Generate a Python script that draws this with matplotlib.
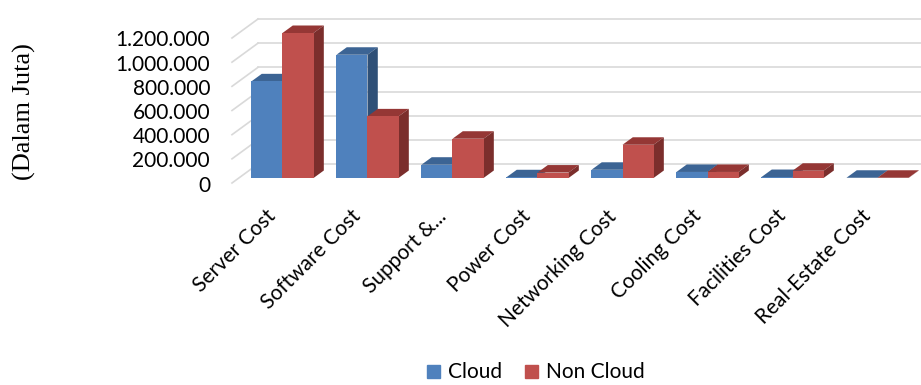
import matplotlib
matplotlib.use("Agg")
import matplotlib.pyplot as plt
from matplotlib.transforms import IdentityTransform
from matplotlib.patches import Polygon, Patch
from matplotlib.lines import Line2D

# ---------------- data ----------------
categories = ["Server Cost", "Software Cost", "Support &...", "Power Cost",
              "Networking Cost", "Cooling Cost", "Facilities Cost", "Real-Estate Cost"]
cloud = [800000, 1020000, 110000, 6000, 68000, 50000, 8000, 2000]
non_cloud = [1200000, 510000, 325000, 45000, 275000, 50000, 60000, 2000]
series_names = ["Cloud", "Non Cloud"]
yticks = [0, 200000, 400000, 600000, 800000, 1000000, 1200000]
ytick_labels = ["0", "200.000", "400.000", "600.000", "800.000", "1.000.000", "1.200.000"]
ylabel = "(Dalam Juta)"

# ---------------- style ----------------
DPI = 100
W, H = 921, 385
FRONT = ["#4F81BD", "#C0504D"]
TOP = ["#3C6494", "#953735"]
SIDE = ["#2F5077", "#7B2E2C"]
GRID = "#D9D9D9"
# depth offsets (pixels, display coords, y up)
FRONT_OFF = (-6.8, -5.0)     # front edge of floor relative to bar front plane
BACK_OFF = (19.2, 14.0)      # back wall relative to bar front plane
BAR_D = (10.3, 7.5)          # bar depth
bar_w = 0.365

plt.rcParams['font.family'] = ['Lato', 'DejaVu Sans']

fig = plt.figure(figsize=(W / DPI, H / DPI), dpi=DPI)
ax = fig.add_axes([238.8 / W, (H - 178) / H, 682.4 / W, 145 / H])
ax.set_xlim(-0.514, 7.514)
ax.set_ylim(0, 1200000)
ax.axis('off')

def disp(x, y, off=(0, 0)):
    px, py = ax.transData.transform((x, y))
    return px + off[0], py + off[1]

x0 = ax.get_xlim()[0]
# gridlines: back wall + left wall diagonals
for v in yticks:
    bx, by = disp(x0, v, BACK_OFF)
    fx, fy = disp(x0, v, FRONT_OFF)
    ax.add_line(Line2D([bx, W + 50], [by, by], color=GRID, lw=1.2,
                       transform=IdentityTransform(), clip_on=False, zorder=0))
    ax.add_line(Line2D([fx, bx], [fy, by], color=GRID, lw=1.2,
                       transform=IdentityTransform(), clip_on=False, zorder=0))

# y tick labels at the front plane
for v, lab in zip(yticks, ytick_labels):
    fx, fy = disp(x0, v, FRONT_OFF)
    fig.text((fx - 22) / W, (fy - 2.5) / H, lab, ha='right', va='center',
             fontsize=15, color='black')

# bars
xs = list(range(len(categories)))
b1 = ax.bar([x - bar_w for x in xs], cloud, width=bar_w, align='edge',
            color=FRONT[0], zorder=2, clip_on=False)
b2 = ax.bar(xs, non_cloud, width=bar_w, align='edge',
            color=FRONT[1], zorder=4, clip_on=False)

def add_3d(rects, k, z):
    for r in rects:
        xl, xr = r.get_x(), r.get_x() + r.get_width()
        h = r.get_height()
        lx, ty = disp(xl, h)
        rx, by = disp(xr, 0)
        dx, dy = BAR_D
        top = Polygon([(lx, ty), (rx, ty), (rx + dx, ty + dy), (lx + dx, ty + dy)],
                      closed=True, facecolor=TOP[k], edgecolor='none',
                      transform=IdentityTransform(), clip_on=False, zorder=z)
        side = Polygon([(rx, by), (rx, ty), (rx + dx, ty + dy), (rx + dx, by + dy)],
                       closed=True, facecolor=SIDE[k], edgecolor='none',
                       transform=IdentityTransform(), clip_on=False, zorder=z)
        ax.add_patch(top)
        ax.add_patch(side)

add_3d(b1, 0, 1)
add_3d(b2, 1, 3)

# category labels
for x, lab in zip(xs, categories):
    px, py = disp(x, 0)
    fig.text((px - 2.5) / W, (py - 28) / H, lab, rotation=45, ha='right', va='top',
             fontsize=15, color='black')

# y label
fig.text(24 / W, 1 - 112 / H, ylabel, rotation=90, ha='center', va='center',
         fontsize=19, family=['Liberation Serif', 'DejaVu Serif'])

# legend
handles = [Patch(color=FRONT[0]), Patch(color=FRONT[1])]
fig.legend(handles, series_names, loc='center', bbox_to_anchor=(536 / W, 12.5 / H),
           ncol=2, frameon=False, fontsize=15, handlelength=0.6, handleheight=0.6,
           handletextpad=0.4, columnspacing=1.1, borderaxespad=0, borderpad=0)

fig.savefig("out.png", dpi=DPI)
